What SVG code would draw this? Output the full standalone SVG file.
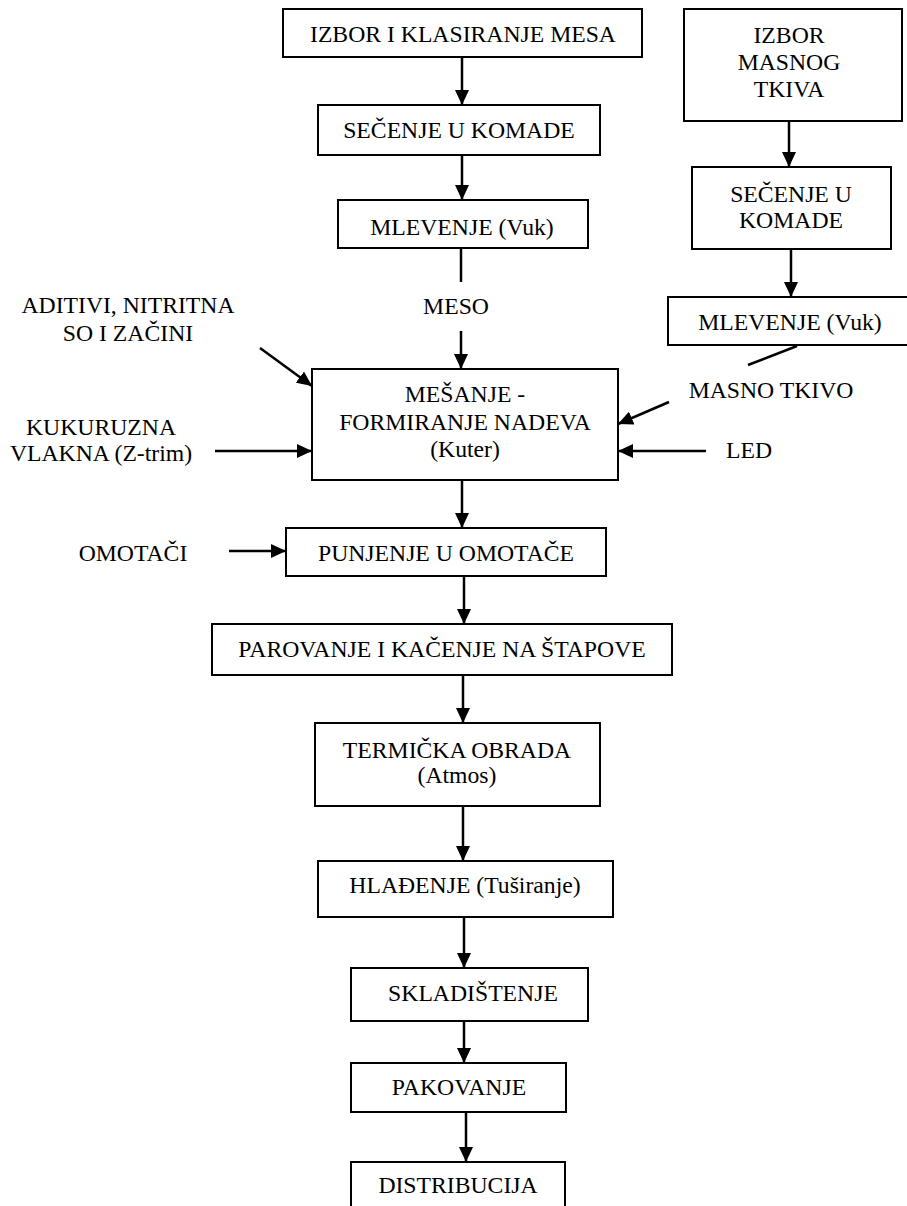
<svg xmlns="http://www.w3.org/2000/svg" width="907" height="1206" viewBox="0 0 907 1206">
<defs>
<marker id="ah" markerUnits="userSpaceOnUse" markerWidth="16" markerHeight="14" refX="15" refY="7" orient="auto"><path d="M0,0 L15,7 L0,14 z" fill="#000"/></marker>
<style>
.box{fill:#fff;stroke:#000;stroke-width:2}
text{font-size:23.7px;fill:#000;text-anchor:middle}
.ln{stroke:#000;stroke-width:2.5;fill:none}
.ar{marker-end:url(#ah)}
</style>
</defs>
<rect width="907" height="1206" fill="#fff"/>
<g id="connectors">
<path class="ln ar" d="M462,57 V105"/>
<path class="ln ar" d="M462,155 V200"/>
<path class="ln" d="M461,248 V282"/>
<path class="ln ar" d="M461,331 V369"/>
<path class="ln ar" d="M789,121 V167"/>
<path class="ln ar" d="M791,249 V297"/>
<path class="ln" d="M797,346 L748,365"/>
<path class="ln ar" d="M669,402 L618,424"/>
<path class="ln ar" d="M706,451 H618"/>
<path class="ln ar" d="M260,348 L312,386"/>
<path class="ln ar" d="M215,451 H312"/>
<path class="ln ar" d="M462,480 V528"/>
<path class="ln ar" d="M229,551 H286"/>
<path class="ln ar" d="M464,576 V624"/>
<path class="ln ar" d="M463,675 V723"/>
<path class="ln ar" d="M463,806 V861"/>
<path class="ln ar" d="M464,917 V968"/>
<path class="ln ar" d="M464,1021 V1063"/>
<path class="ln ar" d="M466,1112 V1162"/>
</g>
<g font-family="Liberation Serif, Times New Roman, DejaVu Serif, serif">
<g id="n1"><rect class="box" x="283" y="9" width="359" height="48"/><text x="463" y="42">IZBOR I KLASIRANJE MESA</text></g>
<g id="n2"><rect class="box" x="318" y="105" width="282" height="50"/><text x="459" y="138">SEČENJE U KOMADE</text></g>
<g id="n3"><rect class="box" x="338" y="200" width="250" height="48"/><text x="462" y="235">MLEVENJE (Vuk)</text></g>
<g id="lbl-meso"><text x="456" y="314">MESO</text></g>
<g id="n4"><rect class="box" x="312" y="369" width="306" height="111"/><text x="465" y="402">MEŠANJE -</text><text x="465" y="430">FORMIRANJE NADEVA</text><text x="465" y="457">(Kuter)</text></g>
<g id="lbl-aditivi"><text x="128" y="313">ADITIVI, NITRITNA</text><text x="128" y="341">SO I ZAČINI</text></g>
<g id="lbl-kukuruzna"><text x="101" y="435">KUKURUZNA</text><text x="101" y="461">VLAKNA (Z-trim)</text></g>
<g id="lbl-masno"><text x="771" y="398">MASNO TKIVO</text></g>
<g id="lbl-led"><text x="749" y="458">LED</text></g>
<g id="r1"><rect class="box" x="684" y="9" width="218" height="112"/><text x="789" y="43">IZBOR</text><text x="789" y="70">MASNOG</text><text x="789" y="97">TKIVA</text></g>
<g id="r2"><rect class="box" x="692" y="167" width="199" height="82"/><text x="791" y="202">SEČENJE U</text><text x="791" y="228">KOMADE</text></g>
<g id="r3"><rect class="box" x="668" y="297" width="260" height="48"/><text x="790" y="330">MLEVENJE (Vuk)</text></g>
<g id="lbl-omotaci"><text x="133" y="561">OMOTAČI</text></g>
<g id="n5"><rect class="box" x="286" y="528" width="320" height="48"/><text x="446" y="561">PUNJENJE U OMOTAČE</text></g>
<g id="n6"><rect class="box" x="212" y="624" width="460" height="51"/><text x="442" y="657">PAROVANJE I KAČENJE NA ŠTAPOVE</text></g>
<g id="n7"><rect class="box" x="315" y="723" width="285" height="83"/><text x="457" y="758">TERMIČKA OBRADA</text><text x="457" y="783">(Atmos)</text></g>
<g id="n8"><rect class="box" x="318" y="861" width="295" height="56"/><text x="465" y="893">HLAĐENJE (Tuširanje)</text></g>
<g id="n9"><rect class="box" x="351" y="968" width="237" height="53"/><text x="473" y="1001">SKLADIŠTENJE</text></g>
<g id="n10"><rect class="box" x="351" y="1063" width="215" height="49"/><text x="459" y="1095">PAKOVANJE</text></g>
<g id="n11"><rect class="box" x="351" y="1162" width="214" height="60"/><text x="458" y="1193">DISTRIBUCIJA</text></g>
</g>
</svg>
